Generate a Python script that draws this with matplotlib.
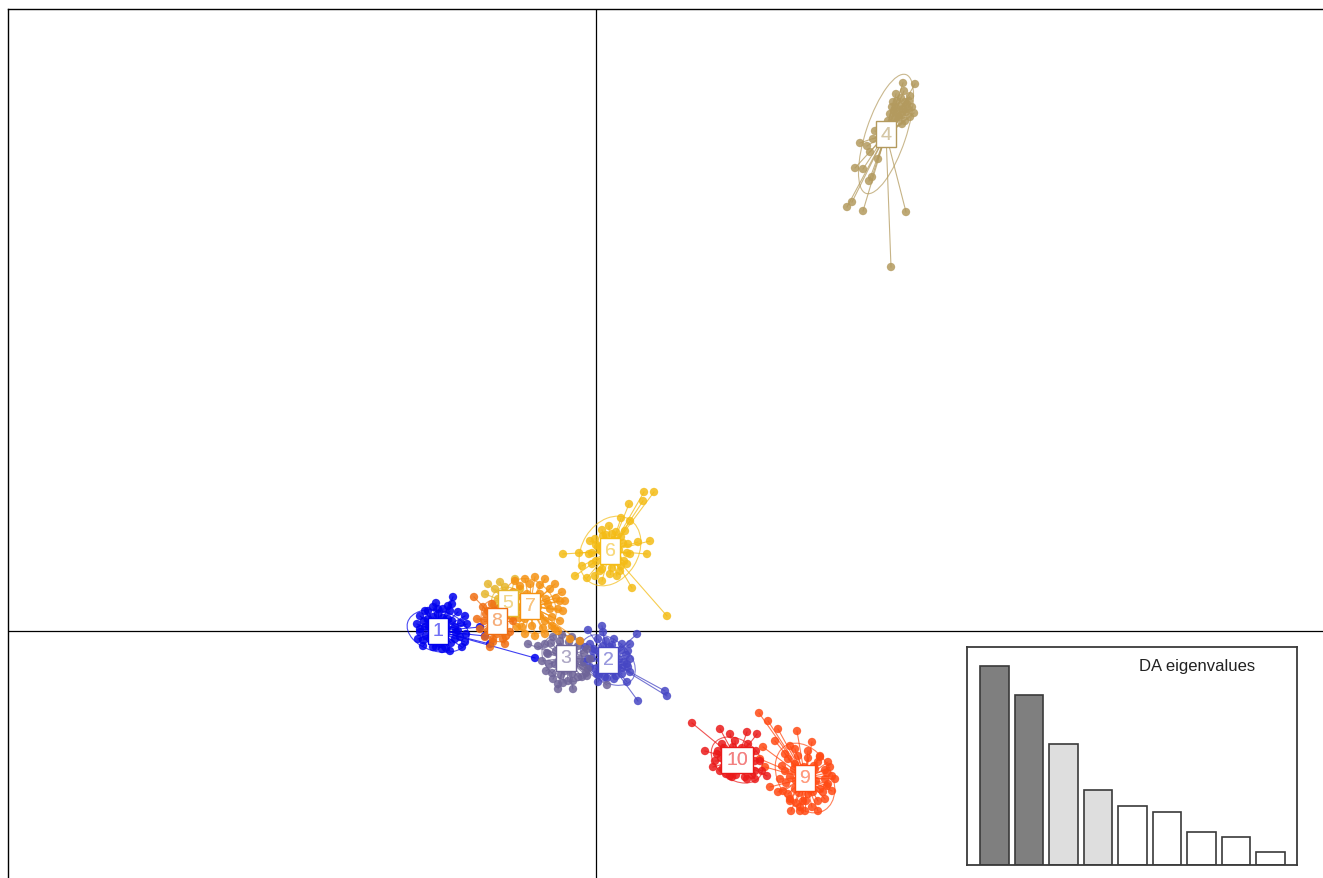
import numpy as np
import matplotlib
matplotlib.use("Agg")
import matplotlib.pyplot as plt
from matplotlib.patches import Ellipse

plt.rcParams['font.family'] = ['Liberation Sans', 'DejaVu Sans']

# ---------------- data ----------------
groups = ["1", "2", "3", "4", "5", "6", "7", "8", "9", "10"]
colors = ["#0000EE", "#4646C4", "#6E6498", "#B39A5E", "#E6B62E",
          "#F4BC16", "#F59212", "#F06E12", "#FF4A14", "#EA1A1A"]

centers_x = [-1.58, 0.12, -0.30, 2.90, -0.88, 0.14, -0.66, -0.99, 2.09, 1.41]
centers_y = [0.00, -0.29, -0.27, 4.97, 0.28, 0.80, 0.25, 0.10, -1.47, -1.29]

g1_x = [-1.76, -1.71, -1.63, -1.53, -1.44, -1.43, -1.38, -1.31, -1.29, -1.30, -1.31, -1.34,
        -1.46, -1.54, -1.63, -1.73, -1.78, -1.76, -1.79, -1.68, -1.48, -1.41, -1.66, -1.51,
        -1.59, -1.41, -1.71, -1.64, -1.52, -1.46, -1.58, -1.70, -1.56, -1.38, -1.60,
        -0.61, -1.06, -1.11, -1.16,
        -1.72, -1.63, -1.53, -1.44, -1.76, -1.67, -1.58, -1.49, -1.40, -1.73, -1.64, -1.54,
        -1.45, -1.60, -1.50, -1.35, -1.36, -1.68, -1.58, -1.48]
g1_y = [0.15, 0.20, 0.24, 0.22, 0.27, 0.34, 0.19, 0.15, 0.07, -0.03, -0.11, -0.16,
        -0.20, -0.18, -0.16, -0.15, -0.08, -0.01, 0.07, 0.12, 0.12, 0.04, -0.08, -0.10,
        0.06, -0.08, 0.04, 0.00, 0.00, 0.20, 0.17, -0.05, -0.13, 0.00, 0.28,
        -0.27, -0.13, -0.05, 0.04,
        0.10, 0.14, 0.13, 0.10, 0.02, 0.04, 0.06, 0.03, -0.01, -0.09, -0.07, -0.08,
        -0.12, -0.16, -0.17, 0.08, -0.06, 0.20, 0.22, 0.25]

g2_x = [-0.06, 0.02, 0.10, 0.18, 0.26, 0.32, 0.34, 0.32, 0.26, 0.18, 0.09, 0.01, -0.06,
        -0.08, -0.03, 0.04, 0.19, 0.22, 0.04, 0.14, -0.12,
        -0.08, 0.06, 0.07, 0.41, 0.34, 0.31, 0.34, 0.31, 0.42, 0.69, 0.71, 0.02, -0.11,
        -0.02, 0.07, 0.16, 0.25, -0.04, 0.05, 0.14, 0.23, 0.30, -0.01, 0.08, 0.17, 0.26,
        0.11, 0.20, 0.28, 0.03]
g2_y = [-0.13, -0.08, -0.10, -0.08, -0.13, -0.20, -0.28, -0.36, -0.43, -0.48, -0.46, -0.43, -0.36,
        -0.28, -0.20, -0.23, -0.23, -0.36, -0.36, -0.16, -0.31,
        0.01, 0.05, -0.01, -0.03, -0.13, -0.33, -0.41, -0.51, -0.70, -0.60, -0.65, -0.51, -0.16,
        -0.18, -0.15, -0.14, -0.19, -0.27, -0.29, -0.26, -0.28, -0.24, -0.38, -0.39, -0.41, -0.37,
        -0.47, -0.45, -0.31, -0.44]

g3_x = [-0.51, -0.43, -0.34, -0.24, -0.16, -0.09, -0.06, -0.08, -0.14, -0.23, -0.33, -0.43,
        -0.50, -0.54, -0.48, -0.41, -0.21, -0.26, -0.36, -0.16, -0.31,
        -0.58, -0.68, -0.09, 0.11, -0.23, -0.38,
        -0.45, -0.36, -0.27, -0.18, -0.49, -0.40, -0.31, -0.22, -0.12, -0.47, -0.37, -0.25,
        -0.13, -0.44, -0.35, -0.24, -0.18, -0.28, -0.38, -0.10]
g3_y = [-0.13, -0.06, -0.04, -0.06, -0.10, -0.18, -0.28, -0.38, -0.46, -0.50, -0.52, -0.48,
        -0.40, -0.30, -0.23, -0.33, -0.33, -0.18, -0.16, -0.28, -0.40,
        -0.15, -0.13, -0.45, -0.54, -0.58, -0.58,
        -0.12, -0.10, -0.11, -0.15, -0.22, -0.20, -0.18, -0.21, -0.22, -0.33, -0.30, -0.29,
        -0.35, -0.42, -0.44, -0.43, -0.46, -0.50, -0.53, -0.42]

g4_x = [3.07, 3.19, 3.00, 3.14, 3.12, 3.04, 2.96, 3.09, 3.02, 3.14, 2.99, 3.06, 2.94, 3.16,
        3.08, 3.01, 3.10, 2.79, 2.77, 2.64, 2.71, 2.74, 2.59, 2.67, 2.76, 2.73, 2.51, 2.56,
        2.67, 3.10, 2.95, 2.84, 2.82,
        3.05, 3.11, 2.98, 3.07, 3.13, 3.03, 2.97, 3.09, 2.92, 3.18, 2.90, 3.00, 3.06]
g4_y = [5.48, 5.47, 5.37, 5.35, 5.22, 5.25, 5.24, 5.29, 5.17, 5.14, 5.12, 5.07, 5.17, 5.24,
        5.40, 5.30, 5.19, 5.00, 4.92, 4.88, 4.85, 4.79, 4.63, 4.62, 4.54, 4.50, 4.24, 4.29,
        4.20, 4.19, 3.64, 5.04, 4.72,
        5.33, 5.27, 5.20, 5.22, 5.30, 5.14, 5.29, 5.10, 5.10, 5.18, 5.05, 5.23, 5.16]

g5_x = [-1.08, -0.96, -0.81, -1.01, -0.91, -0.76, -1.11, -0.84, -0.98, -0.76, -0.96,
        -0.93, -0.86, -1.02]
g5_y = [0.47, 0.49, 0.52, 0.42, 0.44, 0.42, 0.37, 0.36, 0.32, 0.20, 0.17,
        0.38, 0.30, 0.26]

g6_x = [0.48, 0.58, 0.47, 0.33, 0.25, 0.34, 0.13, 0.06, -0.06, 0.54, 0.42, -0.33, -0.17,
        0.51, -0.14, -0.21, -0.09, -0.01, 0.06, 0.21, 0.36, 0.71,
        -0.01, 0.07, 0.16, 0.25, 0.32, 0.34, 0.31, 0.24, 0.14, 0.04, -0.04, -0.07, 0.02,
        0.22, 0.09, 0.29,
        0.00, 0.09, 0.18, 0.27, -0.04, 0.05, 0.14, 0.23, 0.31, 0.00, 0.10, 0.19, 0.28,
        0.06, 0.16, 0.25, 0.10, 0.20]
g6_y = [1.39, 1.39, 1.30, 1.27, 1.13, 1.10, 1.05, 1.01, 0.90, 0.90, 0.89, 0.77, 0.78,
        0.77, 0.65, 0.55, 0.53, 0.55, 0.50, 0.55, 0.43, 0.15,
        0.92, 0.95, 0.97, 0.94, 0.87, 0.77, 0.67, 0.60, 0.57, 0.60, 0.67, 0.77, 0.84,
        0.72, 0.70, 1.00,
        0.86, 0.90, 0.91, 0.88, 0.78, 0.80, 0.84, 0.81, 0.78, 0.70, 0.73, 0.69, 0.70,
        0.62, 0.63, 0.65, 0.96, 0.99]

g7_x = [-0.81, -0.71, -0.61, -0.51, -0.41, -0.34, -0.31, -0.33, -0.36, -0.41, -0.51, -0.61,
        -0.71, -0.79, -0.83, -0.84, -0.83, -0.56, -0.46, -0.71, -0.51, -0.38, -0.16, -0.26,
        -0.76, -0.66, -0.56, -0.46, -0.79, -0.69, -0.60, -0.50, -0.40, -0.78, -0.58, -0.48,
        -0.38, -0.77, -0.66, -0.56, -0.44, -0.74, -0.64, -0.53, -0.44, -0.36]
g7_y = [0.50, 0.52, 0.54, 0.52, 0.47, 0.39, 0.30, 0.20, 0.10, 0.02, -0.03, -0.05,
        -0.03, 0.04, 0.14, 0.27, 0.39, 0.37, 0.22, 0.12, 0.10, 0.00, -0.10, -0.08,
        0.45, 0.47, 0.46, 0.42, 0.34, 0.37, 0.33, 0.32, 0.33, 0.24, 0.24, 0.27,
        0.22, 0.13, 0.16, 0.15, 0.14, 0.04, 0.05, 0.03, 0.05, 0.30]

g8_x = [-1.22, -1.19, -1.13, -1.04, -0.94, -0.86, -0.83, -0.86, -0.93, -1.03, -1.11, -1.16,
        -1.10, -0.96, -1.01, -0.91, -1.06,
        -1.08, -0.98, -0.90, -1.12, -1.03, -0.92, -1.08, -0.99, -0.90, -1.03]
g8_y = [0.34, 0.12, 0.24, 0.27, 0.26, 0.20, 0.10, -0.01, -0.08, -0.11, -0.06, 0.02,
        0.17, 0.04, 0.20, -0.13, -0.16,
        0.20, 0.22, 0.15, 0.10, 0.12, 0.07, 0.00, -0.03, -0.05, -0.08]

g9_x = [1.63, 1.72, 1.82, 2.01, 1.79, 1.67, 1.94, 1.64, 1.69, 1.74, 1.82, 1.94, 2.07, 2.17,
        2.31, 2.36, 2.32, 2.24, 2.16,
        1.89, 1.99, 2.12, 2.24, 2.34, 2.39, 2.36, 2.29, 2.16, 2.04, 1.94, 1.87, 1.84, 1.86,
        1.99, 2.19, 2.24, 1.99, 2.12, 1.94, 2.29, 2.04, 2.22,
        1.92, 2.02, 2.12, 2.22, 1.89, 1.98, 2.08, 2.18, 2.29, 1.90, 2.00, 2.20, 2.32,
        1.92, 2.03, 2.15, 2.27, 2.00, 2.10, 2.22, 2.31, 2.09, 1.95]
g9_y = [-0.82, -0.90, -0.98, -1.00, -1.10, -1.16, -1.15, -1.28, -1.36, -1.56, -1.61, -1.68,
        -1.70, -1.61, -1.55, -1.45, -1.31, -1.25, -1.11,
        -1.23, -1.18, -1.20, -1.26, -1.36, -1.48, -1.60, -1.68, -1.76, -1.76, -1.70, -1.60,
        -1.48, -1.35, -1.33, -1.38, -1.58, -1.58, -1.63, -1.46, -1.48, -1.80, -1.80,
        -1.28, -1.25, -1.27, -1.31, -1.40, -1.38, -1.36, -1.35, -1.39, -1.52, -1.50, -1.50,
        -1.53, -1.63, -1.62, -1.58, -1.61, -1.72, -1.70, -1.70, -1.42, -1.80, -1.80]

g10_x = [0.96, 1.24, 1.34, 1.51, 1.61, 1.09, 1.21, 1.17, 1.34, 1.51, 1.59, 1.66, 1.71,
         1.26, 1.39, 1.52, 1.60, 1.64, 1.59, 1.49, 1.36, 1.24, 1.19, 1.22, 1.44,
         1.28, 1.37, 1.46, 1.55, 1.25, 1.33, 1.50, 1.59, 1.27, 1.36, 1.45, 1.54, 1.40,
         1.30, 1.56]
g10_y = [-0.92, -0.98, -1.03, -1.01, -1.03, -1.20, -1.23, -1.36, -1.45, -1.48, -1.48, -1.40, -1.45,
         -1.13, -1.10, -1.13, -1.20, -1.30, -1.40, -1.46, -1.46, -1.40, -1.30, -1.20, -1.23,
         -1.17, -1.16, -1.17, -1.22, -1.27, -1.25, -1.28, -1.30, -1.37, -1.37, -1.36, -1.38,
         -1.44, -1.43, -1.44]

points_x = [g1_x, g2_x, g3_x, g4_x, g5_x, g6_x, g7_x, g8_x, g9_x, g10_x]
points_y = [g1_y, g2_y, g3_y, g4_y, g5_y, g6_y, g7_y, g8_y, g9_y, g10_y]

eigenvalues = [1990, 1700, 1210, 750, 590, 530, 330, 280, 130]
eig_colors = ["#7F7F7F", "#7F7F7F", "#DEDEDE", "#DEDEDE",
              "white", "white", "white", "white", "white"]

# ---------------- figure ----------------
W, H = 1323, 879
fig = plt.figure(figsize=(W / 100, H / 100), dpi=100)
fig.patch.set_facecolor("white")

left_px, right_px, top_px, bot_px = 8, 1340, 10, 900
ax = fig.add_axes([left_px / W, (H - bot_px) / H,
                   (right_px - left_px) / W, (bot_px - top_px) / H])
ox, oy, scale = 596, 632, 100.0
ax.set_xlim((left_px - ox) / scale, (right_px - ox) / scale)
ax.set_ylim((oy - bot_px) / scale, (oy - top_px) / scale)
ax.set_xticks([])
ax.set_yticks([])
for s in ax.spines.values():
    s.set_linewidth(1.0)
    s.set_color("black")

ax.axvline(0, color="black", lw=0.9, zorder=1)
ax.axhline(0, color="black", lw=0.9, zorder=1)

# inertia ellipses
for gx, gy, cx, cy, col in zip(points_x, points_y, centers_x, centers_y, colors):
    xy = np.column_stack([gx, gy])
    cov = np.cov(xy.T)
    vals, vecs = np.linalg.eigh(cov)
    order = vals.argsort()[::-1]
    vals, vecs = vals[order], vecs[:, order]
    ang = np.degrees(np.arctan2(vecs[1, 0], vecs[0, 0]))
    w, h = 2 * 1.5 * np.sqrt(vals)
    e = Ellipse((cx, cy), w, h, angle=ang, fill=False, edgecolor=col,
                lw=0.8, alpha=0.7, zorder=2)
    ax.add_patch(e)

# stars
for gx, gy, cx, cy, col in zip(points_x, points_y, centers_x, centers_y, colors):
    for px, py in zip(gx, gy):
        ax.plot([cx, px], [cy, py], color=col, lw=0.8, alpha=0.75, zorder=3)

# points
for gx, gy, col in zip(points_x, points_y, colors):
    ax.scatter(gx, gy, s=36, color=col, alpha=0.85, edgecolors="none", zorder=4)

# labels
for lab, cx, cy, col in zip(groups, centers_x, centers_y, colors):
    ax.text(cx, cy, lab, ha="center", va="center", fontsize=14,
            color=col, zorder=6,
            bbox=dict(boxstyle="square,pad=0.25", facecolor="white",
                      edgecolor=col, lw=1.0))
    ax.text(cx, cy, lab, ha="center", va="center", fontsize=14,
            color="white", alpha=0.45, zorder=7)

# ---------------- eigenvalue inset ----------------
il, ir, it, ib = 967, 1297, 648, 866
iax = fig.add_axes([il / W, (H - ib) / H, (ir - il) / W, (ib - it) / H])
iax.set_facecolor("white")
bx = [0.2 + 1.2 * i for i in range(len(eigenvalues))]
iax.bar(bx, eigenvalues, width=1.0, align="edge", color=eig_colors,
        edgecolor="#3A3A3A", linewidth=1.2, zorder=2)
iax.set_xlim(-0.252, 11.217)
iax.set_ylim(0, 2180)
iax.set_xticks([])
iax.set_yticks([])
for s in iax.spines.values():
    s.set_linewidth(1.3)
    s.set_color("#3A3A3A")
iax.text(0.873, 0.913, "DA eigenvalues", transform=iax.transAxes,
         ha="right", va="center", fontsize=12, color="#222222")

fig.savefig("out.png", dpi=100, facecolor="white")
